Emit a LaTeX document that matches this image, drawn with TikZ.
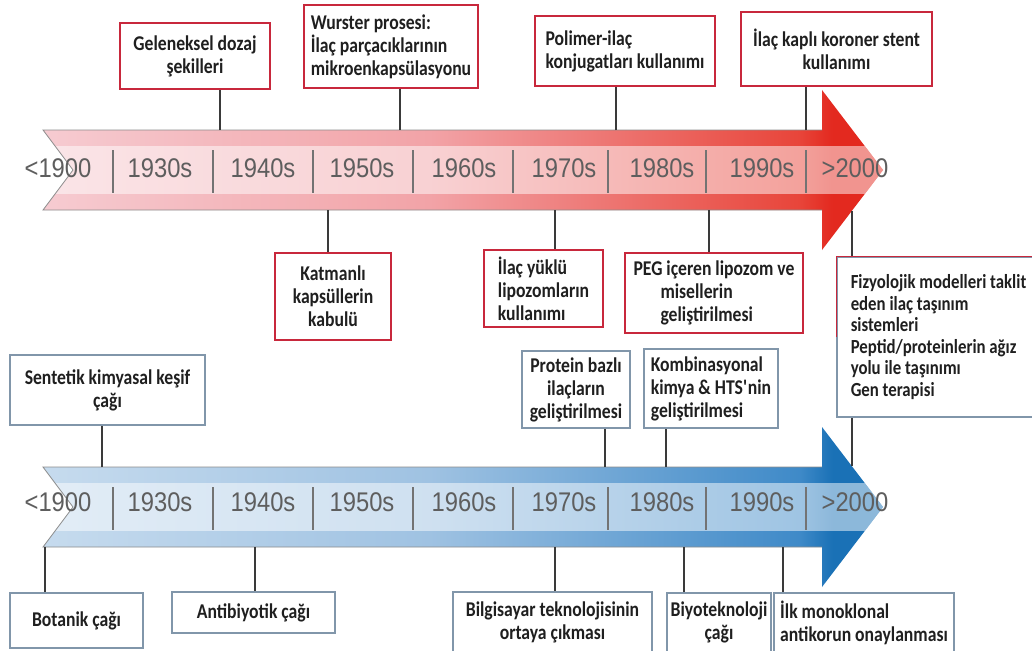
\documentclass[tikz,border=0pt]{standalone}
\usepackage{fontspec}
\setmainfont{Carlito}[FakeStretch=0.84]
\newfontfamily\yearfont{Liberation Sans}[FakeStretch=0.88]

\definecolor{boxred}{HTML}{C8283C}
\definecolor{boxblue}{HTML}{8196AA}
\definecolor{linkgray}{HTML}{3A3A3A}
\definecolor{yeargray}{HTML}{5E5E5E}
\definecolor{redL}{HTML}{F6CBD1}
\definecolor{redM}{HTML}{F2A3A7}
\definecolor{redR}{HTML}{E8453A}
\definecolor{redH}{HTML}{E3291F}
\definecolor{blueL}{HTML}{C6DBEE}
\definecolor{blueM}{HTML}{9FC2E2}
\definecolor{blueR}{HTML}{3F8AC8}
\definecolor{blueH}{HTML}{1A71B6}

\pgfdeclarehorizontalshading{redbar}{100bp}{color(0bp)=(redL); color(25bp)=(redL);
  color(48bp)=(redM); color(70bp)=(redR); color(72bp)=(redH); color(100bp)=(redH)}
\pgfdeclarehorizontalshading{bluebar}{100bp}{color(0bp)=(blueL); color(25bp)=(blueL);
  color(48bp)=(blueM); color(70bp)=(blueR); color(72bp)=(blueH); color(100bp)=(blueH)}

\newcommand\arrowshape[1]{(43,#1) -- (822,#1) -- (822,#1-40) -- (883,#1+40) -- (822,#1+120) -- (822,#1+80) -- (43,#1+80) -- (73,#1+40) -- cycle}

\tikzset{
  redbox/.style={
    draw=boxred,
    line width=1.3pt,
    fill=white,
    inner sep=3pt,
    text=black!88,
    font={\fontsize{21}{23}\selectfont\bfseries}
  },
  bluebox/.style={
    redbox,
    draw=boxblue
  },
  link/.style={
    draw=linkgray,
    line width=2pt
  },
  tick/.style={
    draw=black!55,
    line width=1.3pt
  },
  year/.style={
    text=yeargray,
    font={\yearfont\fontsize{27}{27}\selectfont}
  }
}

\begin{document}
\begin{tikzpicture}[x=1pt, y=-1pt]
  \useasboundingbox (0,0) rectangle (1032,650);
  \fill[white] (0,0) rectangle (1032,650);

  % red time line
  \shade[shading=redbar] \arrowshape{130};
  \begin{scope}
    \clip \arrowshape{130};
    \fill[white, opacity=0.5] (40,146) rectangle (890,194);
  \end{scope}
  \draw[black!45, line width=0.8pt] (73,170) -- (43,130) -- (822,130);
  \draw[black!45, line width=0.8pt] (73,170) -- (43,210) -- (822,210);
  \foreach \x in {113,213,313,413,513,608,706,806}
    \draw[tick] (\x,150) -- (\x,193);
  \foreach \x/\t [count=\i] in {58/{<1900},160/1930s,263/1940s,362/1950s,464/1960s,564/1970s,662/1980s,762/1990s,855/{>2000}}
    \node[year] (ry\i) at (\x,168) {\t};

  % blue time line
  \shade[shading=bluebar] \arrowshape{467};
  \begin{scope}
    \clip \arrowshape{467};
    \fill[white, opacity=0.5] (40,483) rectangle (890,531);
  \end{scope}
  \draw[black!45, line width=0.8pt] (73,507) -- (43,467) -- (822,467);
  \draw[black!45, line width=0.8pt] (73,507) -- (43,547) -- (822,547);
  \foreach \x in {113,213,313,413,513,608,706,806}
    \draw[tick] (\x,487) -- (\x,530);
  \foreach \x/\t [count=\i] in {58/{<1900},160/1930s,263/1940s,362/1950s,464/1960s,564/1970s,662/1980s,762/1990s,855/{>2000}}
    \node[year] (by\i) at (\x,502) {\t};

  % points on the time lines
  \coordinate (rgel) at (220,130);
  \coordinate (rwur) at (400,130);
  \coordinate (rpol) at (616,130);
  \coordinate (rkap) at (806,130);
  \coordinate (rkat) at (328,210);
  \coordinate (ryuk) at (555,210);
  \coordinate (rpeg) at (709,210);
  \coordinate (rfiz) at (852,211);
  \coordinate (bfiz) at (852,466);
  \coordinate (bsen) at (102,467);
  \coordinate (bpro) at (605,467);
  \coordinate (bkom) at (666,467);
  \coordinate (bbot) at (45,547);
  \coordinate (bant) at (255,547);
  \coordinate (bbil) at (555,547);
  \coordinate (bbiy) at (684,547);
  \coordinate (bilk) at (783,547);

  % red boxes
  \node[redbox, minimum width=150, minimum height=66, align=center] (gel) at (195,56) {Geleneksel dozaj\\şekilleri};
  \node[redbox, minimum width=174, minimum height=83, align=left] (wur) at (391,46.5) {Wurster prosesi:\\İlaç parçacıklarının\\mikroenkapsülasyonu};
  \node[redbox, minimum width=180, minimum height=70, align=left] (pol) at (625,51) {Polimer-ilaç\\konjugatları kullanımı};
  \node[redbox, minimum width=191, minimum height=74, align=center] (kap) at (836.5,49) {İlaç kaplı koroner stent\\kullanımı};
  \node[redbox, minimum width=116, minimum height=87, align=center] (kat) at (333,296.5) {Katmanlı\\kapsüllerin\\kabulü};
  \node[redbox, minimum width=119, minimum height=77, align=left] (yuk) at (543.5,288.5) {İlaç yüklü\\lipozomların\\kullanımı};
  \node[redbox, minimum width=178, minimum height=80, align=left] (peg) at (714,293) {PEG içeren lipozom ve\\\hspace*{27pt}misellerin\\\hspace*{27pt}geliştirilmesi};
  \node[bluebox, minimum width=203, minimum height=160, align=left, font={\fontsize{20}{21.5}\selectfont\bfseries}] (fiz) at (938.5,337)
    {Fizyolojik modelleri taklit\\eden ilaç taşınım\\sistemleri\\Peptid/proteinlerin ağız\\yolu ile taşınımı\\Gen terapisi};
  \draw[boxred, line width=1.3pt] (fiz.west) -- (fiz.north west) -- (fiz.north east);

  % blue boxes
  \node[bluebox, minimum width=195, minimum height=70, align=center] (sen) at (107.5,390) {Sentetik kimyasal keşif\\çağı};
  \node[bluebox, minimum width=108, minimum height=77, align=center] (pro) at (576,389.5) {Protein bazlı\\ilaçların\\geliştirilmesi};
  \node[bluebox, minimum width=134, minimum height=79, align=left] (kom) at (711,388.5) {Kombinasyonal\\kimya \& HTS\textquotesingle nin\\geliştirilmesi};
  \node[bluebox, minimum width=133, minimum height=55, align=center] (bot) at (76.5,620.5) {Botanik çağı};
  \node[bluebox, minimum width=163, minimum height=41, align=center] (ant) at (253.5,612.5) {Antibiyotik çağı};
  \node[bluebox, minimum width=199, minimum height=60, align=center] (bil) at (552.5,622) {Bilgisayar teknolojisinin\\ortaya çıkması};
  \node[bluebox, minimum width=104, minimum height=59, align=center] (biy) at (719,622.5) {Biyoteknoloji\\çağı};
  \node[bluebox, minimum width=180, minimum height=59, align=left] (ilk) at (864,622.5) {İlk monoklonal\\antikorun onaylanması};

  % links
  \draw[link] (rgel) -- (rgel |- gel.south);
  \draw[link] (rwur) -- (rwur |- wur.south);
  \draw[link] (rpol) -- (rpol |- pol.south);
  \draw[link] (rkap) -- (rkap |- kap.south);
  \draw[link] (rkat) -- (rkat |- kat.north);
  \draw[link] (ryuk) -- (ryuk |- yuk.north);
  \draw[link] (rpeg) -- (rpeg |- peg.north);
  \draw[link] (rfiz) -- (rfiz |- fiz.north);
  \draw[link] (bfiz) -- (bfiz |- fiz.south);
  \draw[link] (bsen) -- (bsen |- sen.south);
  \draw[link] (bpro) -- (bpro |- pro.south);
  \draw[link] (bkom) -- (bkom |- kom.south);
  \draw[link] (bbot) -- (bbot |- bot.north);
  \draw[link] (bant) -- (bant |- ant.north);
  \draw[link] (bbil) -- (bbil |- bil.north);
  \draw[link] (bbiy) -- (bbiy |- biy.north);
  \draw[link] (bilk) -- (bilk |- ilk.north);
\end{tikzpicture}
\end{document}
